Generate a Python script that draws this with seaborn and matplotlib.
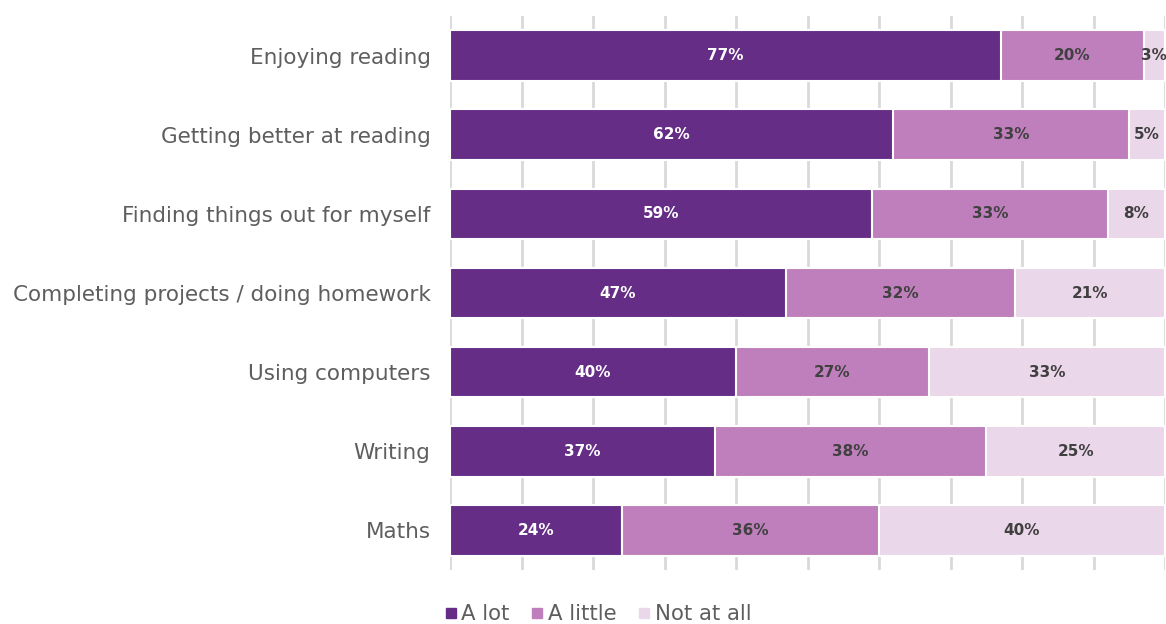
import matplotlib
matplotlib.use("Agg")
import matplotlib.pyplot as plt
import seaborn as sns
import pandas as pd
import numpy as np
from matplotlib.lines import Line2D

categories = [
    "Enjoying reading",
    "Getting better at reading",
    "Finding things out for myself",
    "Completing projects / doing homework",
    "Using computers",
    "Writing",
    "Maths",
]
a_lot = [77, 62, 59, 47, 40, 37, 24]
a_little = [20, 33, 33, 32, 27, 38, 36]
not_at_all = [3, 5, 8, 21, 33, 25, 40]

series_names = ["A lot", "A little", "Not at all"]
colors = ["#652D86", "#BF7FBC", "#EBD7EA"]
text_colors = ["white", "#404040", "#404040"]

sns.set_theme(style="white")
plt.rcParams["font.family"] = ["DejaVu Sans"]

df = pd.DataFrame({
    "category": categories,
    "A lot": a_lot,
    "A little": a_little,
    "Not at all": not_at_all,
})
df["c1"] = df["A lot"]
df["c2"] = df["A lot"] + df["A little"]
df["c3"] = df["c2"] + df["Not at all"]

fig = plt.figure(figsize=(11.66, 6.24), dpi=100)
ax = fig.add_axes([450 / 1166, 1 - 570 / 624, 715 / 1166, (570 - 16) / 624])

# Stack by overlaying cumulative totals, widest first
for cum, col in zip(["c3", "c2", "c1"], colors[::-1]):
    sns.barplot(data=df, x=cum, y="category", orient="h", color=col,
                width=0.64, edgecolor="white", linewidth=1.5,
                saturation=1, ax=ax, zorder=3)

# Segment value labels
values = [a_lot, a_little, not_at_all]
for i in range(len(categories)):
    left = 0
    for s in range(3):
        v = values[s][i]
        ax.text(left + v / 2, i, f"{v}%", ha="center", va="center",
                color=text_colors[s], fontsize=11, fontweight="bold", zorder=5)
        left += v

ax.set_xlim(0, 100)
ax.set_ylim(len(categories) - 0.5, -0.5)
ax.set_xticks(np.arange(0, 101, 10))
ax.set_xticklabels([])
ax.grid(axis="x", color="#d9d9d9", linewidth=2)
ax.set_axisbelow(True)
ax.tick_params(axis="y", length=0, pad=14, labelsize=15.5, labelcolor="#5e5e5e")
ax.tick_params(axis="x", length=0)
ax.set_xlabel("")
ax.set_ylabel("")
for sp in ax.spines.values():
    sp.set_visible(False)

handles = [Line2D([0], [0], marker="s", linestyle="", markersize=7,
                  markerfacecolor=c, markeredgecolor=c) for c in colors]
fig.legend(handles, series_names, loc="center", bbox_to_anchor=(598 / 1166, 1 - 614 / 624),
           ncol=3, frameon=False, fontsize=15.3, labelcolor="#5e5e5e",
           handlelength=0.6, handletextpad=0.2, columnspacing=1.0)

fig.savefig("out.png", dpi=100)
